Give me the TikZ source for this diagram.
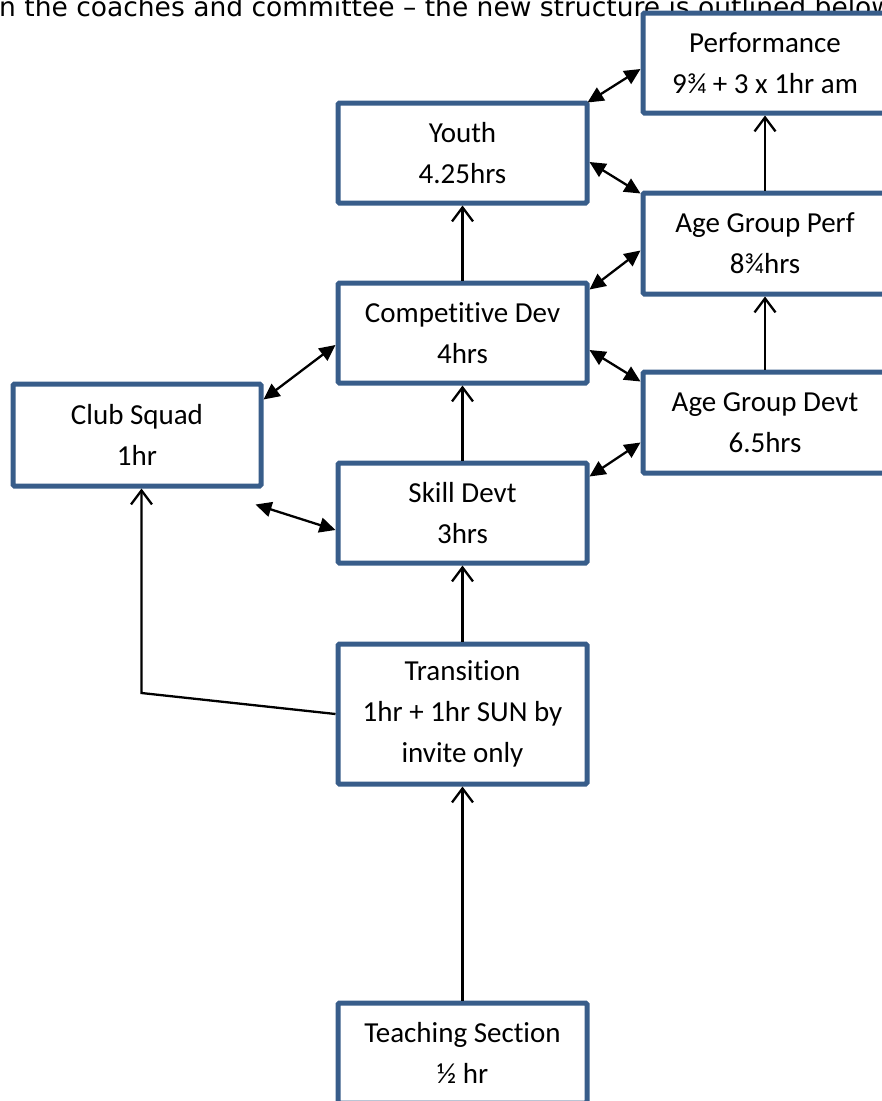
\documentclass[tikz,border=0pt]{standalone}
\usepackage{fontspec}
\newfontfamily\boxfont{Carlito}[Ligatures={NoCommon}]
\newfontfamily\topfont{DejaVu Sans}
\usetikzlibrary{arrows.meta}
\definecolor{boxblue}{RGB}{56,93,138}
\begin{document}
\begin{tikzpicture}[x=1pt,y=-1pt,
  box/.style={draw=boxblue, line width=5pt, fill=white, minimum width=249pt,
    minimum height=100pt, inner sep=0pt, align=center, rounded corners=1.5pt,
    font=\boxfont\fontsize{29}{41}\selectfont},
  openarrow/.style={line width=2.3pt, -{Straight Barb[length=14pt,width=21pt]}},
  biarrow/.style={line width=2.3pt, {Triangle[length=16pt,width=15pt]}-{Triangle[length=16pt,width=15pt]}}]
\useasboundingbox (0,0) rectangle (882,1101);
\clip (0,0) rectangle (882,1101);
\node[anchor=base west, inner sep=0pt, font=\topfont\fontsize{26.5}{30}\selectfont] (top) at (-1,16)
  {n the coaches and committee – the new structure is outlined below};
\node[box, minimum width=244pt] (perf) at (765,63) {Performance\\9¾ + 3 x 1hr am};
\node[box] (youth) at (462.5,153) {Youth\\4.25hrs};
\node[box, minimum width=244pt, minimum height=101pt] (agperf) at (765,243.5) {Age Group Perf\\8¾hrs};
\node[box] (compdev) at (462.5,333) {Competitive Dev\\4hrs};
\node[box, minimum width=244pt, minimum height=101pt] (agdevt) at (765,422.5) {Age Group Devt\\6.5hrs};
\node[box, minimum width=248pt, minimum height=102pt] (club) at (137,435) {Club Squad\\1hr};
\node[box] (skill) at (462.5,513) {Skill Devt\\3hrs};
\node[box, minimum height=140pt] (trans) at (462.5,714) {Transition\\1hr + 1hr SUN by\\invite only};
\node[box] (teach) at (462.5,1053) {Teaching Section\\½ hr};
% vertical arrows
\draw[openarrow] (compdev.north) -- (youth.south);
\draw[openarrow] (skill.north) -- (compdev.south);
\draw[openarrow] (trans.north) -- (skill.south);
\draw[openarrow] (teach.north) -- (trans.south);
\draw[openarrow] (agperf.north) -- (perf.south);
\draw[openarrow] (agdevt.north) -- (agperf.south);
\coordinate (bend) at (141.5,693);
\draw[openarrow] (trans.west) -- (bend) -- (bend |- club.south);
% diagonal double arrows
\draw[biarrow] ([xshift=-2pt,yshift=-2pt]youth.north east) -- ([yshift=-6pt]perf.west);
\draw[biarrow] ([yshift=-9pt]youth.east) -- ([yshift=-3pt]agperf.north west);
\draw[biarrow] ([yshift=-9pt]compdev.north east) -- ([yshift=-7pt]agperf.west);
\draw[biarrow] ([yshift=-17pt]compdev.east) -- ([yshift=-12pt]agdevt.north west);
\draw[biarrow] ([yshift=-16pt]skill.north east) -- ([yshift=-20pt]agdevt.west);
\draw[biarrow] ([yshift=-18pt]club.north east) -- ([yshift=-12pt]compdev.west);
\coordinate (clubfree) at ([xshift=-8pt,yshift=-16pt]club.south east);
\draw[biarrow] (clubfree) -- ([yshift=-17pt]skill.west);
\end{tikzpicture}
\end{document}
